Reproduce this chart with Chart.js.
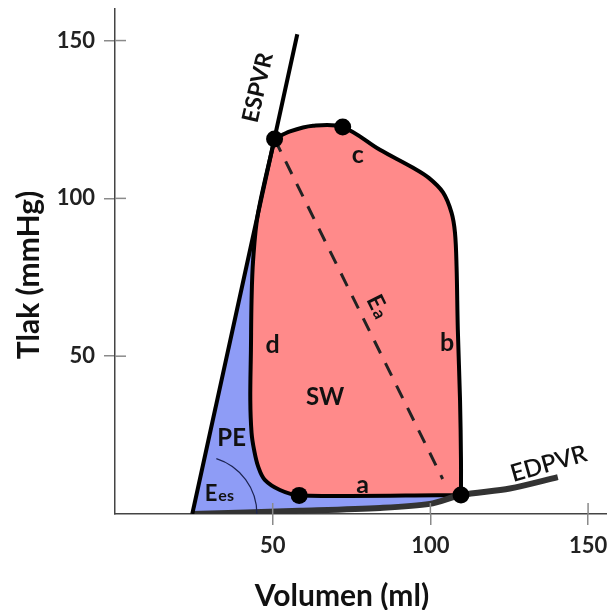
<!DOCTYPE html>
<html>
<head>
<meta charset="utf-8">
<script src="https://cdn.jsdelivr.net/npm/chart.js@4/dist/chart.umd.min.js"></script>
<style>
html, body { margin: 0; padding: 0; background: #fff; overflow: hidden; }
#wrap { width: 607px; height: 610px; position: relative; }
</style>
</head>
<body>
<div id="wrap"><canvas id="pv"></canvas></div>
<script>
// tick values on both axes
const xTicks = [50, 100, 150];
const yTicks = [50, 100, 150];

// volume (ml) / pressure (mmHg) pairs
const espvr = [{x: 24.5, y: 0}, {x: 57.8, y: 152}];
const edpvr = [
  {x: 24.5, y: 0}, {x: 58.6, y: 1.0}, {x: 84, y: 1.9}, {x: 99.8, y: 3.2},
  {x: 109.7, y: 6.0}, {x: 125.2, y: 8.1}, {x: 140.4, y: 11.7}
];
// PV loop, clockwise from the end-systolic point (corner points doubled to keep them sharp)
const loop = [
  {x: 50.6, y: 118.8}, {x: 55.5, y: 121.2}, {x: 62.8, y: 123.0}, {x: 72.2, y: 122.6},
  {x: 84.0, y: 115.4}, {x: 94.5, y: 109.7}, {x: 99.5, y: 106.5}, {x: 104.0, y: 101.9},
  {x: 106.7, y: 95.5}, {x: 107.8, y: 89.1}, {x: 108.3, y: 78.4}, {x: 108.7, y: 58.4},
  {x: 109.4, y: 36.2}, {x: 109.7, y: 17.1}, {x: 109.7, y: 6.0}, {x: 109.7, y: 6.0},
  {x: 58.4, y: 5.9}, {x: 52.3, y: 7.6}, {x: 47.5, y: 10.8}, {x: 45.4, y: 15.0},
  {x: 44.1, y: 20.3}, {x: 43.3, y: 25.7}, {x: 42.9, y: 36.2}, {x: 43.1, y: 52},
  {x: 43.3, y: 67.9}, {x: 43.8, y: 80.5}, {x: 45.3, y: 95}, {x: 50.6, y: 118.8}
];
const eaLine = [{x: 50.6, y: 118.8}, {x: 103.9, y: 11.1}];
const keyPoints = [{x: 50.6, y: 118.8}, {x: 72.2, y: 122.6}, {x: 58.4, y: 5.9}, {x: 109.7, y: 6.0}];

// PE area: under ESPVR, closed along EDPVR
const peArea = [espvr[0], loop[0], ...edpvr.slice(0, 5).reverse()];

// text annotations, placed in data units
const notes = [
  {text: 'c', x: 77, y: 113.9, size: 25},
  {text: 'd', x: 50, y: 53.6, size: 25},
  {text: 'b', x: 105.3, y: 54.1, size: 25},
  {text: 'a', x: 78.5, y: 9.2, size: 25},
  {text: 'SW', x: 66.6, y: 37.1, size: 24},
  {text: 'PE', x: 37.0, y: 24.0, size: 24},
  {text: 'ESPVR', x: 45.3, y: 135.1, size: 23, rot: -77},
  {text: 'EDPVR', x: 137.5, y: 15.9, size: 24, rot: -16, weight: '600'}
];
const subNotes = [
  {text: 'E', sub: 'es', x: 31.4, y: 6.6, size: 22, subSize: 16, rot: 0},
  {text: 'E', sub: 'a', x: 83.2, y: 66.3, size: 23, subSize: 17, rot: 64}
];

const FONT = 'Lato, "Open Sans", sans-serif';

const decor = {
  id: 'decor',
  afterDatasetsDraw(chart) {
    const {ctx, chartArea, scales: {x, y}} = chart;
    ctx.save();
    // inner halves of the crossing tick marks
    ctx.strokeStyle = '#8a8a8a';
    ctx.lineWidth = 1.5;
    xTicks.forEach(v => {
      const px = x.getPixelForValue(v);
      ctx.beginPath(); ctx.moveTo(px, chartArea.bottom); ctx.lineTo(px, chartArea.bottom - 11); ctx.stroke();
    });
    yTicks.forEach(v => {
      const py = y.getPixelForValue(v);
      ctx.beginPath(); ctx.moveTo(chartArea.left, py); ctx.lineTo(chartArea.left + 11, py); ctx.stroke();
    });
    // Ees angle arc
    const cx = x.getPixelForValue(26.6), cy = y.getPixelForValue(0);
    const ax = x.getPixelForValue(espvr[1].x) - x.getPixelForValue(espvr[0].x);
    const ay = y.getPixelForValue(espvr[1].y) - y.getPixelForValue(espvr[0].y);
    ctx.strokeStyle = '#1c2452';
    ctx.lineWidth = 1.2;
    ctx.beginPath();
    ctx.arc(cx, cy, 58, Math.atan2(ay, ax) + 0.09, 0);
    ctx.stroke();
    ctx.restore();
  },
  afterDraw(chart) {
    const {ctx, scales: {x, y}} = chart;
    ctx.save();
    ctx.fillStyle = '#111';
    ctx.textAlign = 'center';
    ctx.textBaseline = 'middle';
    notes.forEach(n => {
      ctx.save();
      ctx.translate(x.getPixelForValue(n.x), y.getPixelForValue(n.y));
      if (n.rot) ctx.rotate(n.rot * Math.PI / 180);
      ctx.font = `${n.weight || 'bold'} ${n.size}px ${FONT}`;
      ctx.fillText(n.text, 0, 0);
      ctx.restore();
    });
    subNotes.forEach(n => {
      ctx.save();
      ctx.translate(x.getPixelForValue(n.x), y.getPixelForValue(n.y));
      if (n.rot) ctx.rotate(n.rot * Math.PI / 180);
      ctx.textBaseline = 'alphabetic';
      ctx.textAlign = 'left';
      ctx.font = `bold ${n.size}px ${FONT}`;
      const w = ctx.measureText(n.text).width;
      ctx.fillText(n.text, -w / 2 - 3, 8);
      ctx.font = `bold ${n.subSize}px ${FONT}`;
      ctx.fillText(n.sub, w / 2 - 2, 8);
      ctx.restore();
    });
    // axis titles
    ctx.font = `bold 30px ${FONT}`;
    ctx.fillStyle = '#111';
    ctx.fillText('Volumen (ml)', 342, 596);
    ctx.translate(29, 275);
    ctx.rotate(-Math.PI / 2);
    ctx.fillText('Tlak (mmHg)', 0, 0);
    ctx.restore();
  }
};

const tickFont = {family: FONT, size: 22, weight: 'bold'};
const noPad = s => { s.paddingTop = 0; s.paddingBottom = 0; s.paddingLeft = 0; s.paddingRight = 0; };

new Chart(document.getElementById('pv'), {
  type: 'line',
  data: {
    datasets: [
      {label: 'PE', data: peArea, fill: 'shape', backgroundColor: '#8e9cf6', borderColor: '#8e9cf6',
       borderWidth: 1, pointRadius: 0, tension: 0, order: 6},
      {label: 'SW', data: loop, fill: 'shape', backgroundColor: '#ff8a8a', borderColor: '#000',
       borderWidth: 4, pointRadius: 0, tension: 0.35, borderJoinStyle: 'round', order: 5},
      {label: 'EDPVR', data: edpvr, borderColor: '#333', borderWidth: 6, pointRadius: 0,
       tension: 0.3, fill: false, order: 4},
      {label: 'ESPVR', data: espvr, borderColor: '#000', borderWidth: 4, pointRadius: 0, fill: false, order: 3},
      {label: 'Ea', data: eaLine, borderColor: '#222', borderWidth: 3, borderDash: [14, 11],
       pointRadius: 0, fill: false, order: 2},
      {label: 'points', data: keyPoints, showLine: false, pointRadius: 8.5, pointBackgroundColor: '#000',
       pointBorderWidth: 0, order: 1}
    ]
  },
  options: {
    responsive: true,
    maintainAspectRatio: false,
    animation: false,
    events: [],
    layout: {autoPadding: false, padding: {top: 9, right: 0, bottom: 0, left: 0}},
    plugins: {legend: {display: false}, tooltip: {enabled: false}},
    scales: {
      x: {
        type: 'linear', min: 0, max: 156,
        afterBuildTicks: s => { s.ticks = xTicks.map(v => ({value: v})); },
        afterFit: s => { s.height = 96; noPad(s); },
        grid: {drawOnChartArea: false, drawTicks: true, tickLength: 11, color: '#8a8a8a', lineWidth: 1.5},
        border: {display: true, color: '#444', width: 1.5},
        ticks: {font: tickFont, color: '#222', padding: 8, maxRotation: 0}
      },
      y: {
        type: 'linear', min: 0, max: 160,
        afterBuildTicks: s => { s.ticks = yTicks.map(v => ({value: v})); },
        afterFit: s => { s.width = 115; noPad(s); },
        grid: {drawOnChartArea: false, drawTicks: true, tickLength: 11, color: '#8a8a8a', lineWidth: 1.5},
        border: {display: true, color: '#444', width: 1.5},
        ticks: {font: tickFont, color: '#222', padding: 9}
      }
    }
  },
  plugins: [decor]
});
</script>
</body>
</html>
